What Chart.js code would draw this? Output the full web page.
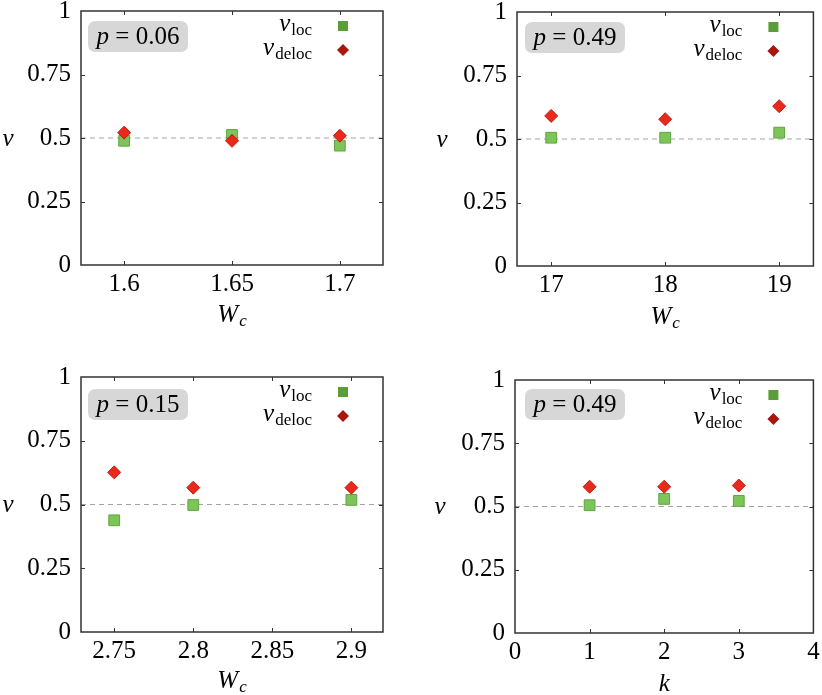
<!DOCTYPE html>
<html><head><meta charset="utf-8">
<script src="https://cdn.jsdelivr.net/npm/chart.js@4"></script>
<style>
html,body{margin:0;padding:0;background:#fff;}
#wrap{position:relative;width:822px;height:695px;overflow:hidden;}
canvas{position:absolute;}
</style></head><body>
<div id="wrap">
<canvas id="c1" style="left:0px;top:0px;width:411px;height:347px" width="411" height="347"></canvas>
<canvas id="c2" style="left:411px;top:0px;width:411px;height:347px" width="411" height="347"></canvas>
<canvas id="c3" style="left:0px;top:347px;width:411px;height:348px" width="411" height="348"></canvas>
<canvas id="c4" style="left:411px;top:347px;width:411px;height:348px" width="411" height="348"></canvas>
</div>
<script>
// ---- data ----
const p1_x = [1.6, 1.65, 1.7];
const p1_loc = [0.489, 0.512, 0.470];
const p1_deloc = [0.521, 0.489, 0.509];
const p2_x = [17, 18, 19];
const p2_loc = [0.505, 0.505, 0.525];
const p2_deloc = [0.591, 0.578, 0.629];
const p3_x = [2.75, 2.8, 2.9];
const p3_loc = [0.438, 0.498, 0.518];
const p3_deloc = [0.626, 0.566, 0.566];
const p4_x = [1, 2, 3];
const p4_loc = [0.505, 0.530, 0.522];
const p4_deloc = [0.578, 0.578, 0.583];
const yTicks = [0, 0.25, 0.5, 0.75, 1];
const p1_xTicks = [1.6, 1.65, 1.7];
const p2_xTicks = [17, 18, 19];
const p3_xTicks = [2.75, 2.8, 2.85, 2.9];
const p4_xTicks = [0, 1, 2, 3, 4];
const p1_xRange = [1.58, 1.72];
const p2_xRange = [16.7, 19.3];
const p3_xRange = [2.729, 2.92];
const p4_xRange = [0, 4];
const pValues = ['0.06', '0.49', '0.15', '0.49'];
const xTitles = [['W','c'], ['W','c'], ['W','c'], ['k','']];
const refLevel = 0.5;

const FONT = '"Liberation Serif", "Times New Roman", serif';
const fmt = v => String(+(+v).toFixed(4));

function line(ctx, x1, y1, x2, y2) { ctx.beginPath(); ctx.moveTo(x1, y1); ctx.lineTo(x2, y2); ctx.stroke(); }

function drawSub(ctx, main, sub, x, y, align, mainItalic, subItalic) {
  ctx.font = (mainItalic ? 'italic ' : '') + '25px ' + FONT;
  const w1 = ctx.measureText(main).width;
  ctx.font = (subItalic ? 'italic ' : '') + '17px ' + FONT;
  const w2 = sub ? ctx.measureText(sub).width + 1 : 0;
  const tot = w1 + w2;
  let x0 = align === 'right' ? x - tot : (align === 'center' ? x - tot / 2 : x);
  ctx.textAlign = 'left'; ctx.textBaseline = 'alphabetic'; ctx.fillStyle = '#000';
  ctx.font = (mainItalic ? 'italic ' : '') + '25px ' + FONT;
  ctx.fillText(main, x0, y);
  if (sub) {
    ctx.font = (subItalic ? 'italic ' : '') + '17px ' + FONT;
    ctx.fillText(sub, x0 + w1 + 1, y + 4);
  }
  return tot;
}

const decor = {
  id: 'decor',
  afterDraw(chart, args, o) {
    const ctx = chart.ctx, a = chart.chartArea;
    const xs = chart.scales.x, ys = chart.scales.y;
    ctx.save();
    ctx.strokeStyle = '#333'; ctx.lineWidth = 1;
    xs.ticks.forEach(t => {
      const px = Math.round(xs.getPixelForValue(t.value)) + 0.5;
      if (px <= a.left + 1 || px >= a.right - 1) return;
      line(ctx, px, a.bottom, px, a.bottom - 4);
      line(ctx, px, a.top, px, a.top + 4);
    });
    ys.ticks.forEach(t => {
      const py = Math.round(ys.getPixelForValue(t.value)) + 0.5;
      if (py <= a.top + 1 || py >= a.bottom - 1) return;
      line(ctx, a.left, py, a.left + 4, py);
      line(ctx, a.right, py, a.right - 4, py);
    });
    ctx.lineWidth = 1.5; ctx.strokeStyle = '#333';
    ctx.strokeRect(a.left, a.top, a.right - a.left, a.bottom - a.top);

    // p box
    const bx = a.left + o.boxDx, by = a.top + o.boxDy, bw = 100, bh = 31, r = 8;
    ctx.fillStyle = '#d7d7d7';
    ctx.beginPath();
    ctx.moveTo(bx + r, by); ctx.lineTo(bx + bw - r, by); ctx.quadraticCurveTo(bx + bw, by, bx + bw, by + r);
    ctx.lineTo(bx + bw, by + bh - r); ctx.quadraticCurveTo(bx + bw, by + bh, bx + bw - r, by + bh);
    ctx.lineTo(bx + r, by + bh); ctx.quadraticCurveTo(bx, by + bh, bx, by + bh - r);
    ctx.lineTo(bx, by + r); ctx.quadraticCurveTo(bx, by, bx + r, by);
    ctx.closePath(); ctx.fill();
    ctx.fillStyle = '#000'; ctx.textBaseline = 'alphabetic'; ctx.textAlign = 'left';
    ctx.font = 'italic 25px ' + FONT;
    const wp = ctx.measureText('p').width;
    ctx.font = '25px ' + FONT;
    const rest = ' = ' + o.pval;
    const wr = ctx.measureText(rest).width;
    const tx = bx + bw / 2 - (wp + wr) / 2, ty = by + 23;
    ctx.font = 'italic 25px ' + FONT; ctx.fillText('p', tx, ty);
    ctx.font = '25px ' + FONT; ctx.fillText(rest, tx + wp, ty);

    // legend
    const mx = a.right - 40, my1 = a.top + 15, my2 = a.top + 39;
    drawSub(ctx, '\u03BD', 'loc', mx - 31, my1 + 5, 'right', true, false);
    drawSub(ctx, '\u03BD', 'deloc', mx - 31, my2 + 5, 'right', true, false);
    ctx.fillStyle = '#5a9e38';
    ctx.fillRect(mx - 5, my1 - 5, 10, 10);
    ctx.fillStyle = '#a8170d';
    ctx.beginPath(); ctx.moveTo(mx, my2 - 6); ctx.lineTo(mx + 6, my2); ctx.lineTo(mx, my2 + 6); ctx.lineTo(mx - 6, my2); ctx.closePath(); ctx.fill();

    // axis titles
    ctx.fillStyle = '#000';
    ctx.font = 'italic 25px ' + FONT; ctx.textAlign = 'center'; ctx.textBaseline = 'middle';
    ctx.fillText('\u03BD', a.left - o.nuDx, (a.top + a.bottom) / 2 + 1);
    drawSub(ctx, o.xt[0], o.xt[1], (a.left + a.right) / 2, a.bottom + o.xtDy, 'center', true, true);
    ctx.restore();
  }
};

function makeChart(id, c) {
  return new Chart(document.getElementById(id), {
    data: {
      datasets: [
        { type: 'scatter', label: 'deloc', data: c.x.map((x, i) => ({ x: x, y: c.deloc[i] })),
          pointStyle: 'rectRot', pointRadius: 6.5, pointHoverRadius: 6.5,
          backgroundColor: '#e8291c', borderColor: '#c41d12', borderWidth: 1, order: 1 },
        { type: 'scatter', label: 'loc', data: c.x.map((x, i) => ({ x: x, y: c.loc[i] })),
          pointStyle: 'rect', pointRadius: 7.6, pointHoverRadius: 7.6,
          backgroundColor: '#7dc45a', borderColor: '#5ea63e', borderWidth: 1, order: 2 },
        { type: 'line', label: 'ref', data: [{ x: c.range[0], y: refLevel }, { x: c.range[1], y: refLevel }],
          borderColor: '#a3a3a3', borderWidth: 1, borderDash: [5, 4], pointRadius: 0, order: 3 }
      ]
    },
    options: {
      responsive: false, animation: false, events: [],
      layout: { padding: { left: 0, top: c.padTop, right: c.padRight, bottom: 0 } },
      plugins: { legend: { display: false }, tooltip: { enabled: false },
        decor: { boxDx: c.boxDx, boxDy: c.boxDy, pval: c.pval, xt: c.xt, xtDy: c.xtDy, nuDx: c.nuDx } },
      scales: {
        x: { type: 'linear', min: c.range[0], max: c.range[1],
          afterBuildTicks: s => { s.ticks = c.xTicks.map(v => ({ value: v })); },
          afterFit: s => { s.height = c.xAxisH; s.paddingLeft = 0; s.paddingRight = 0; },
          grid: { display: false, drawTicks: false }, border: { display: false },
          ticks: { color: '#000', font: { family: FONT, size: 25 }, padding: 4, maxRotation: 0, autoSkip: false, callback: v => fmt(v) } },
        y: { type: 'linear', min: 0, max: 1,
          afterBuildTicks: s => { s.ticks = yTicks.map(v => ({ value: v })); },
          afterFit: s => { s.width = c.yAxisW; s.paddingTop = 0; s.paddingBottom = 0; },
          grid: { display: false, drawTicks: false }, border: { display: false },
          ticks: { color: '#000', font: { family: FONT, size: 25 }, padding: 10, callback: v => fmt(v) } }
      }
    },
    plugins: [decor]
  });
}

makeChart('c1', { x: p1_x, loc: p1_loc, deloc: p1_deloc, xTicks: p1_xTicks, range: p1_xRange, pval: pValues[0], xt: xTitles[0],
  yAxisW: 81, padTop: 11, padRight: 28, xAxisH: 82, boxDx: 7, boxDy: 10, xtDy: 57, nuDx: 73 });
makeChart('c2', { x: p2_x, loc: p2_loc, deloc: p2_deloc, xTicks: p2_xTicks, range: p2_xRange, pval: pValues[1], xt: xTitles[1],
  yAxisW: 106, padTop: 12, padRight: 3, xAxisH: 81, boxDx: 8, boxDy: 10, xtDy: 58, nuDx: 75 });
makeChart('c3', { x: p3_x, loc: p3_loc, deloc: p3_deloc, xTicks: p3_xTicks, range: p3_xRange, pval: pValues[2], xt: xTitles[2],
  yAxisW: 81, padTop: 30, padRight: 28, xAxisH: 63, boxDx: 7, boxDy: 12, xtDy: 56, nuDx: 73 });
makeChart('c4', { x: p4_x, loc: p4_loc, deloc: p4_deloc, xTicks: p4_xTicks, range: p4_xRange, pval: pValues[3], xt: xTitles[3],
  yAxisW: 104, padTop: 33, padRight: 6, xAxisH: 62, boxDx: 10, boxDy: 9, xtDy: 58, nuDx: 75 });
</script>
</body></html>
